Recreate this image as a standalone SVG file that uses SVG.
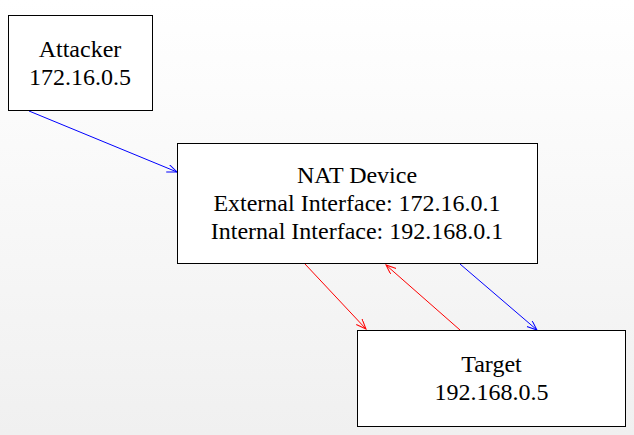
<svg xmlns="http://www.w3.org/2000/svg" width="634" height="435" viewBox="0 0 634 435">
<defs>
<linearGradient id="bg" x1="0" y1="0" x2="0" y2="1">
<stop offset="0" stop-color="#ffffff"/>
<stop offset="1" stop-color="#f0f0f0"/>
</linearGradient>
<marker id="ab" markerWidth="12" markerHeight="10" refX="10" refY="4" orient="auto" markerUnits="userSpaceOnUse">
<path d="M0,0 L10,4 L0,8" fill="none" stroke="#0000ff" stroke-width="1"/>
</marker>
<marker id="ar" markerWidth="12" markerHeight="10" refX="10" refY="4" orient="auto" markerUnits="userSpaceOnUse">
<path d="M0,0 L10,4 L0,8" fill="none" stroke="#ff0000" stroke-width="1"/>
</marker>
<style>
.box{fill:#ffffff;stroke:#000000;stroke-width:1}
.t{font-family:"Liberation Serif","Times New Roman",serif;font-size:24px;fill:#000000;text-anchor:middle}
.b{stroke:#0000ff;stroke-width:1;fill:none;marker-end:url(#ab)}
.r{stroke:#ff0000;stroke-width:1;fill:none;marker-end:url(#ar)}
</style>
</defs>
<rect x="0" y="0" width="634" height="435" fill="url(#bg)"/>
<g id="connectors">
<line class="b" x1="29" y1="111" x2="177" y2="172"/>
<line class="r" x1="305" y1="264" x2="366" y2="329"/>
<line class="r" x1="460" y1="330" x2="386" y2="265"/>
<line class="b" x1="460" y1="264" x2="537" y2="330"/>
</g>
<g id="attacker">
<rect class="box" x="8.5" y="15.5" width="144" height="95"/>
<text class="t" x="80" y="57">Attacker</text>
<text class="t" x="80" y="85">172.16.0.5</text>
</g>
<g id="nat">
<rect class="box" x="177.5" y="143.5" width="360" height="120"/>
<text class="t" x="357" y="183">NAT Device</text>
<text class="t" x="357" y="211">External Interface: 172.16.0.1</text>
<text class="t" x="357" y="239">Internal Interface: 192.168.0.1</text>
</g>
<g id="target">
<rect class="box" x="357.5" y="330.5" width="268" height="96"/>
<text class="t" x="491.5" y="372">Target</text>
<text class="t" x="491.5" y="400">192.168.0.5</text>
</g>
</svg>
